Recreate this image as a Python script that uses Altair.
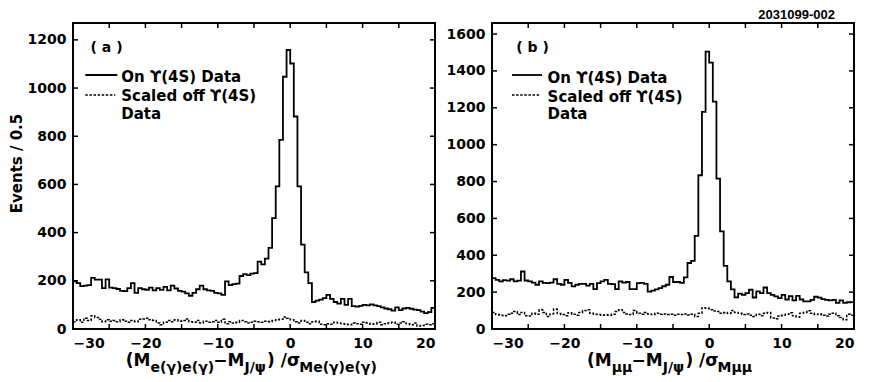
import altair as alt
import numpy as np
import pandas as pd

# ---------------- data ----------------
edges = np.round(np.arange(-30, 20.001, 0.5), 2)  # 101 bin edges, bins of 0.5

a_on = [198, 190, 178, 180, 182, 212, 205, 205, 170, 206,
        172, 170, 166, 158, 157, 170, 190, 150, 170, 165,
        163, 172, 160, 170, 162, 175, 160, 180, 168, 158,
        155, 148, 138, 150, 165, 180, 165, 160, 158, 150,
        148, 142, 198, 182, 186, 188, 220, 228, 224, 230,
        232, 280, 268, 292, 337, 460, 592, 785, 1047, 1158,
        1102, 882, 592, 350, 235, 190, 112, 118, 122, 128,
        142, 125, 112, 105, 125, 100, 125, 95, 93, 96,
        100, 98, 102, 98, 95, 90, 85, 82, 76, 90,
        78, 85, 88, 84, 80, 78, 72, 66, 70, 88]

a_off = [30, 38, 28, 45, 35, 55, 48, 40, 30, 38,
         32, 35, 30, 38, 32, 28, 35, 30, 40, 42,
         45, 38, 35, 25, 18, 28, 35, 30, 38, 32,
         35, 42, 30, 28, 35, 25, 32, 28, 30, 35,
         28, 40, 22, 30, 25, 28, 35, 30, 25, 28,
         32, 30, 28, 32, 30, 35, 38, 40, 50, 45,
         38, 30, 25, 35, 28, 22, 30, 32, 20, 18,
         22, 20, 28, 25, 22, 20, 18, 25, 22, 20,
         28, 25, 20, 22, 28, 18, 22, 25, 28, 20,
         25, 30, 22, 18, 25, 12, 15, 20, 18, 22]

b_on = [276, 267, 258, 265, 262, 270, 258, 262, 312, 263,
        258, 252, 240, 258, 250, 249, 252, 270, 245, 240,
        267, 250, 231, 240, 245, 245, 235, 245, 216, 249,
        258, 267, 245, 243, 216, 258, 252, 255, 216, 216,
        249, 250, 245, 203, 208, 215, 222, 232, 240, 282,
        255, 255, 250, 280, 358, 370, 505, 834, 1178, 1505,
        1445, 1234, 816, 530, 342, 258, 215, 172, 192, 185,
        195, 213, 171, 204, 195, 225, 195, 185, 177, 168,
        185, 160, 178, 155, 180, 160, 150, 150, 158, 175,
        170, 162, 158, 155, 158, 142, 155, 142, 145, 146]

b_off = [90, 78, 74, 72, 80, 86, 95, 78, 90, 72,
         70, 85, 80, 104, 90, 68, 82, 108, 84, 78,
         72, 88, 80, 75, 90, 100, 104, 85, 80, 78,
         75, 77, 75, 80, 95, 104, 90, 82, 78, 100,
         85, 80, 90, 82, 78, 85, 80, 82, 78, 80,
         75, 80, 78, 82, 76, 80, 68, 85, 115, 112,
         105, 98, 95, 86, 90, 84, 100, 90, 85, 78,
         82, 75, 68, 80, 72, 85, 90, 60, 55, 70,
         75, 80, 88, 72, 65, 86, 90, 99, 85, 78,
         82, 75, 70, 80, 86, 72, 62, 50, 80, 75]

x_labels = [-30, -20, -10, 0, 10, 20]
x_ticks = [-25, -20, -15, -10, -5, 0, 5, 10, 15]
a_yticks = [0, 200, 400, 600, 800, 1000, 1200]
b_yticks = [0, 200, 400, 600, 800, 1000, 1200, 1400, 1600]

legend_on = "On \u03d2(4S) Data"
legend_off_1 = "Scaled off \u03d2(4S)"
legend_off_2 = "Data"
fig_id = "2031099-002"

# ---------------- styling ----------------
W, H = 362, 306
FONT = "DejaVu Sans"
TL = 5  # inward tick length
ONE = pd.DataFrame({"k": [0]})


def hist_df(vals):
    return pd.DataFrame({"x": edges, "y": list(vals) + [vals[-1]]})


def txt(s, x, y, size, align="left", baseline="middle", font=FONT):
    return alt.Chart(ONE).mark_text(
        text=s, align=align, baseline=baseline, fontSize=size, font=font,
        fontWeight="bold", color="black"
    ).encode(x=alt.value(x), y=alt.value(y))


def seg(x1, x2, y, dash=None):
    kw = dict(color="black", strokeWidth=1.8)
    if dash:
        kw = dict(color="black", strokeWidth=1.5, strokeDash=dash)
    return alt.Chart(ONE).mark_rule(**kw).encode(
        x=alt.value(x1), x2=alt.value(x2), y=alt.value(y))


def panel(on, off, ymax, yticks, ytitle, tag, tag_x, leg_x0, leg_x1, leg_tx,
          leg_dy, title_parts):
    xs = alt.Scale(domain=[-30, 20], nice=False, zero=False)
    ys = alt.Scale(domain=[0, ymax], nice=False, zero=True)
    yaxis_kw = dict(values=yticks, format="d", labelFont=FONT,
                    labelFontWeight="bold", labelFontSize=14,
                    labelColor="black", labelPadding=7,
                    ticks=False, domain=False, grid=False)
    if ytitle:
        yaxis = alt.Axis(title=ytitle, titleFont=FONT, titleFontWeight="bold",
                         titleFontSize=15, titleColor="black", titlePadding=3,
                         titleY=140, **yaxis_kw)
    else:
        yaxis = alt.Axis(title="", **yaxis_kw)
    xaxis = alt.Axis(values=x_labels, format="d", title="", labelFont=FONT,
                     labelFontWeight="bold", labelFontSize=14,
                     labelColor="black", labelPadding=7, ticks=False,
                     domain=False, grid=False)
    X = lambda f: alt.X(f, scale=xs, axis=xaxis)
    Y = lambda f: alt.Y(f, scale=ys, axis=yaxis)

    on_line = alt.Chart(hist_df(on)).mark_line(
        interpolate="step-after", color="black", strokeWidth=1.8
    ).encode(x=X("x:Q"), y=Y("y:Q"))
    off_line = alt.Chart(hist_df(off)).mark_line(
        interpolate="step-after", color="black", strokeWidth=1.5,
        strokeDash=[2.5, 1.6]
    ).encode(x=X("x:Q"), y=Y("y:Q"))

    xt = alt.Chart(pd.DataFrame({"x": x_ticks}))
    yt = alt.Chart(pd.DataFrame({"y": yticks}))
    rk = dict(color="black", strokeWidth=1.5)
    ticks = [
        xt.mark_rule(**rk).encode(x=X("x:Q"), y=alt.value(H),
                                  y2=alt.value(H - TL)),
        xt.mark_rule(**rk).encode(x=X("x:Q"), y=alt.value(0),
                                  y2=alt.value(TL)),
        yt.mark_rule(**rk).encode(y=Y("y:Q"), x=alt.value(0),
                                  x2=alt.value(TL)),
        yt.mark_rule(**rk).encode(y=Y("y:Q"), x=alt.value(W - TL),
                                  x2=alt.value(W)),
    ]

    legend = [
        txt(tag, tag_x, 25, 14),
        seg(leg_x0, leg_x1, 52),
        txt(legend_on, leg_tx, 54 + leg_dy, 15),
        seg(leg_x0, leg_x1 - 2, 72, dash=[2.5, 1.6]),
        txt(legend_off_1, leg_tx, 73 + leg_dy, 15),
        txt(legend_off_2, leg_tx, 90.5 + leg_dy, 15),
    ]

    title = []
    for s, x, sub in title_parts:
        if sub:
            title.append(txt(s, x, 349, 14, baseline="alphabetic"))
        else:
            title.append(txt(s, x, 343, 17, baseline="alphabetic"))

    return alt.layer(on_line, off_line, *ticks, *legend, *title).properties(
        width=W, height=H)


title_a = [("(M", 52.8, False), ("e(\u03b3)e(\u03b3)", 77.5, True),
           ("\u2212M", 140.3, False), ("J/\u03c8", 171.5, True),
           (") /\u03c3", 194.1, False), ("Me(\u03b3)e(\u03b3)", 226.2, True)]
title_b = [("(M", 95, False), ("\u03bc\u03bc", 119.7, True),
           ("\u2212M", 139.6, False), ("J/\u03c8", 170.8, True),
           (") /\u03c3", 193.4, False), ("M\u03bc\u03bc", 225.5, True)]

pa = panel(a_on, a_off, 1270, a_yticks, "Events / 0.5", "( a )", 17.6,
           12.3, 44.3, 48.3, 0, title_a)
pb = panel(b_on, b_off, 1660, b_yticks, None, "( b )", 24.3,
           20, 50, 55.6, 0.5, title_b)
pb = alt.layer(pb, txt(fig_id, 343, -8, 13, align="right",
                       font="Liberation Sans"))

chart = alt.hconcat(pa, pb, spacing=5).properties(
    padding=0
).configure(font=FONT).configure_view(stroke="black", strokeWidth=2)

chart.save("out.html", embed_options={"renderer": "svg", "actions": False})
